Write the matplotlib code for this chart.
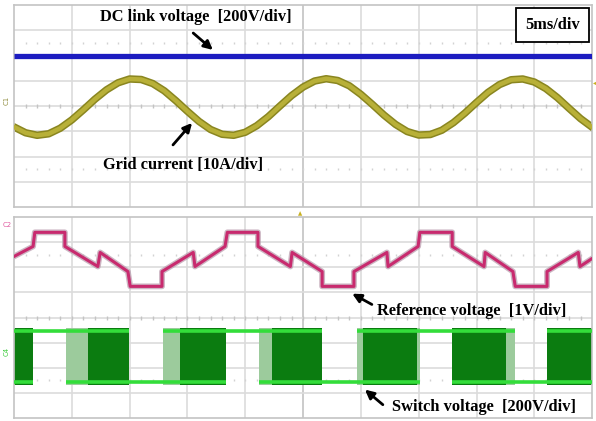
import numpy as np
import matplotlib.pyplot as plt

plt.rcParams['font.family'] = ['Liberation Serif', 'DejaVu Serif']

# horizontal axis in divisions, 5 ms/div, 10 divisions
t_current = np.arange(0, 10.01, 0.2)
grid_current = [-0.83, -1.06, -1.16, -1.10, -0.88, -0.55, -0.15, 0.27, 0.64, 0.92,
                1.07, 1.05, 0.89, 0.60, 0.21, -0.21, -0.61, -0.93, -1.12, -1.16,
                -1.04, -0.78, -0.42, 0.00, 0.41, 0.75, 0.99, 1.08, 1.01, 0.80,
                0.46, 0.06, -0.36, -0.73, -1.01, -1.15, -1.13, -0.96, -0.66, -0.28,
                0.14, 0.54, 0.85, 1.04, 1.07, 0.95, 0.69, 0.33, -0.09, -0.50, -0.84]

t_dc = [0, 10]
dc_link = [2.0, 2.0]

# multilevel reference voltage (breakpoints)
ref_t = [0.00, 0.33, 0.36, 0.88, 0.88, 1.45, 1.49, 1.97, 2.01, 2.56, 2.56, 3.10, 3.13,
         3.65, 3.69, 4.22, 4.22, 4.78, 4.81, 5.33, 5.33, 5.88, 5.88, 6.45, 6.47, 6.99,
         7.02, 7.58, 7.58, 8.13, 8.15, 8.63, 8.67, 9.22, 9.22, 9.76, 9.79, 10.00]
ref_v = [2.43, 2.83, 3.39, 3.39, 2.83, 2.03, 2.59, 1.83, 1.24, 1.24, 1.83, 2.59, 2.03,
         2.83, 3.39, 3.39, 2.83, 2.03, 2.59, 1.83, 1.24, 1.24, 1.83, 2.59, 2.03, 2.83,
         3.39, 3.39, 2.83, 2.03, 2.59, 1.83, 1.24, 1.24, 1.83, 2.59, 2.03, 2.35]

# switch voltage: PWM bursts, faded bursts and constant high/low stretches
sw_start = [0.00, 0.33, 0.90, 1.28, 1.99, 2.58, 2.87, 3.67, 4.24, 4.46, 5.33, 5.93,
            6.04, 6.97, 7.02, 7.58, 8.51, 8.67, 9.22]
sw_end = [0.33, 0.90, 1.28, 1.99, 2.58, 2.87, 3.67, 4.24, 4.46, 5.33, 5.93, 6.04,
          6.97, 7.02, 7.58, 8.51, 8.67, 9.22, 10.00]
sw_state = ['pwm', 'high', 'fade', 'pwm', 'low', 'fade', 'pwm', 'high', 'fade', 'pwm',
            'low', 'fade', 'pwm', 'fade', 'high', 'pwm', 'fade', 'low', 'pwm']
sw_high = -0.52
sw_low = -2.55

fig = plt.figure(figsize=(5.96, 4.21), dpi=100)
ax1 = fig.add_axes([0.0235, 0.5083, 0.970, 0.4798])
ax2 = fig.add_axes([0.0235, 0.0071, 0.970, 0.4774])


def scope_grid(ax):
    ax.set_xlim(0, 10)
    ax.set_ylim(-4, 4)
    ax.set_xticks([])
    ax.set_yticks([])
    for s in ax.spines.values():
        s.set_color('#c4c4c4')
        s.set_linewidth(1.2)
    for x in range(1, 10):
        ax.axvline(x, color='#c2c2c2' if x == 5 else '#dcdcdc', lw=1.2, zorder=0)
    for y in range(-3, 4):
        ax.axhline(y, color='#dcdcdc', lw=1.2, zorder=0)
    minor = np.arange(0.2, 10, 0.2)
    ax.plot(minor, np.zeros_like(minor), '|', color='#c4c4c4', ms=3.5, zorder=0)
    for y in (2.5, -2.5):
        ax.plot(minor, np.full_like(minor, y), '|', color='#d2d2d2', ms=2, zorder=0)


scope_grid(ax1)
scope_grid(ax2)

# top screen: DC link voltage and grid current
ax1.plot(t_dc, dc_link, color='#1c1cc0', lw=3.8, solid_capstyle='butt', zorder=3)
ax1.plot(t_current, grid_current, color='#8a8620', lw=5.4, zorder=2)
ax1.plot(t_current, grid_current, color='#b8b038', lw=3.2, zorder=3)

# bottom screen: reference voltage
ax2.plot(ref_t, ref_v, color='#b898aa', lw=4.2, alpha=0.7, zorder=2)
ax2.plot(ref_t, ref_v, color='#c82a6e', lw=2.2, zorder=3)

# bottom screen: switch voltage
for a, b, st in zip(sw_start, sw_end, sw_state):
    if st == 'pwm':
        ax2.fill_between([a, b], -2.7, -0.4, color='#0b7c10', lw=0, zorder=2)
    elif st == 'fade':
        ax2.fill_between([a, b], -2.7, -0.4, color='#9ccb9c', lw=0, zorder=2)
    if st != 'low':
        ax2.plot([a, b], [sw_high, sw_high], color='#33dd3a', lw=2.6,
                 solid_capstyle='butt', zorder=3)
    if st != 'high':
        ax2.plot([a, b], [sw_low, sw_low], color='#33dd3a', lw=2.6,
                 solid_capstyle='butt', zorder=3)

# channel labels on the left edge
ax1.text(-0.012, 0.53, 'C1', transform=ax1.transAxes, rotation=90, fontsize=5,
         color='#8f8c3c', ha='center', va='center', family='DejaVu Sans')
ax2.text(-0.011, 0.96, 'C2', transform=ax2.transAxes, fontsize=5, color='#e05aa0',
         ha='center', va='center', family='DejaVu Sans')
ax2.text(-0.012, 0.33, 'C4', transform=ax2.transAxes, rotation=90, fontsize=5,
         color='#3ccc3c', ha='center', va='center', family='DejaVu Sans')
ax2.text(0.495, 1.005, '\u25b2', transform=ax2.transAxes, fontsize=4,
         color='#c8b020', ha='center', va='bottom', family='DejaVu Sans')
ax1.text(1.002, 0.61, '\u25c0', transform=ax1.transAxes, fontsize=4,
         color='#c8b020', ha='left', va='center', family='DejaVu Sans')

font = dict(fontsize=11.8, fontweight='bold', color='black')
arrow = dict(arrowstyle='-|>', color='black', lw=2, mutation_scale=13,
             shrinkA=0, shrinkB=0)

ax1.text(1.49, 3.52, 'DC link voltage  [200V/div]', ha='left', va='center', zorder=5, **font)
ax1.annotate('', xy=(3.44, 2.22), xytext=(3.10, 2.89), arrowprops=arrow, zorder=5)
ax1.text(1.54, -2.34, 'Grid current [10A/div]', ha='left', va='center', zorder=5, **font)
ax1.annotate('', xy=(3.08, -0.67), xytext=(2.75, -1.54), arrowprops=arrow, zorder=5)
ax1.text(9.31, 3.22, '5ms/div', ha='center', va='center', zorder=5,
         bbox=dict(boxstyle='square,pad=0.55', fc='white', ec='black', lw=1.3), **font)

ax2.text(6.28, 0.24, 'Reference voltage  [1V/div]', ha='left', va='center', zorder=5, **font)
ax2.annotate('', xy=(5.85, 0.95), xytext=(6.19, 0.52), arrowprops=arrow, zorder=5)
ax2.text(6.54, -3.55, 'Switch voltage  [200V/div]', ha='left', va='center', zorder=5, **font)
ax2.annotate('', xy=(6.07, -2.87), xytext=(6.38, -3.47), arrowprops=arrow, zorder=5)

fig.savefig('out.png', dpi=100, facecolor='white')
